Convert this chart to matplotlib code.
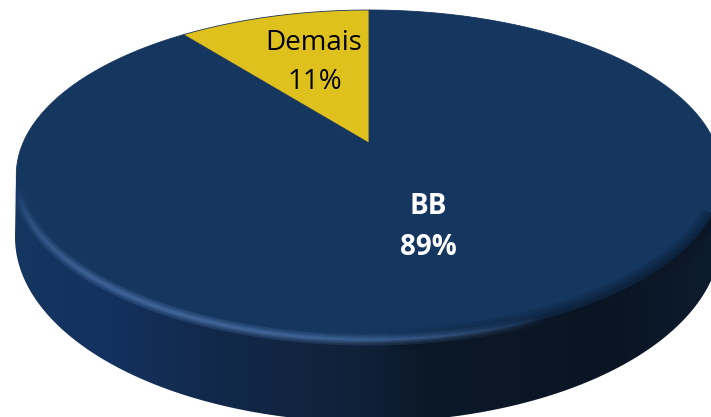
import matplotlib
matplotlib.use("Agg")
import matplotlib.pyplot as plt
import numpy as np
from matplotlib.collections import LineCollection
from matplotlib.colors import LinearSegmentedColormap
from matplotlib.patches import Polygon
from matplotlib.transforms import Affine2D

# values, the labels on the picture are rounded
categories = ["BB", "Demais"]
values = [89.4, 10.6]
percent_labels = ["89%", "11%"]
colors = ["#15365f", "#dfc11d"]

W, H = 711, 417
APEX_X, APEX_Y = 369, 143

# tilted disc, unit circle to pixels
def project(u, v):
    k = 0.194
    d = 1 + k * v
    return APEX_X + 346 * u / d, APEX_Y - 158.8 * v / d

fig = plt.figure(figsize=(W / 100, H / 100), dpi=100)
ax = fig.add_axes([0, 0, 1, 1])

# side wall of the pie
t = np.linspace(np.pi, 2 * np.pi, 300)
wall_x = 368 + 353 * np.cos(t)
wall_y = 237 - 185 * np.sin(t)
wall_pts = np.column_stack([np.r_[wall_x, 721, 16], np.r_[wall_y, 175, 175]])
wall = Polygon(wall_pts, closed=True, facecolor="none", edgecolor="none", zorder=1)
ax.add_patch(wall)
wall_cmap = LinearSegmentedColormap.from_list("wall", [
    (0.0, "#15365f"), (0.12, "#133260"), (0.28, "#12294b"), (0.48, "#10213a"),
    (0.58, "#0c1929"), (0.85, "#0a1523"), (1.0, "#0d1c30")])
grad = ax.imshow(np.linspace(0, 1, 256).reshape(1, -1), cmap=wall_cmap, aspect="auto",
                 extent=[15, 721, H + 10, 170], zorder=1)
grad.set_clip_path(wall)

# top face, the wedges come from pie() and get tilted afterwards
wedges, _ = ax.pie(values, colors=colors, startangle=90, counterclock=False)
for i, wedge in enumerate(wedges):
    big = wedge.get_path().transformed(Affine2D().scale(2000))
    poly = big.to_polygons(closed_only=False)[0] / 2000
    px, py = project(poly[:, 0], poly[:, 1])
    wedge.remove()
    ax.add_patch(Polygon(np.column_stack([px, py]), closed=True, facecolor=colors[i],
                         edgecolor="#1f3554" if i == 1 else colors[i],
                         linewidth=0.6, zorder=2 + i))

# soft rim along the front edge
def rim_lines(start, stop, color, peak, widths):
    a = np.radians(np.linspace(start, stop, 200))
    x, y = project(np.cos(a), np.sin(a))
    pts = np.column_stack([x, y]).reshape(-1, 1, 2)
    segs = np.concatenate([pts[:-1], pts[1:]], axis=1)
    fade = np.sin(np.linspace(0, np.pi, len(segs))) ** 0.7
    rgba = np.tile(matplotlib.colors.to_rgba(color), (len(segs), 1))
    for w in widths:
        rgba = rgba.copy()
        rgba[:, 3] = peak * fade
        ax.add_collection(LineCollection(segs, colors=rgba, linewidths=w, zorder=4,
                                         capstyle="butt"))

rim_lines(272, 345, "#0b1726", 0.2, [16, 11, 7, 4])
rim_lines(195, 295, "#5279b0", 0.27, [8, 5, 3, 1.5])

# labels
ax.text(314, 43, categories[1], ha="center", va="center", fontsize=20,
        family="Open Sans", color="black", zorder=6)
ax.text(315, 82, percent_labels[1], ha="center", va="center", fontsize=20,
        family="Open Sans", color="black", zorder=6)
ax.text(428, 206, categories[0], ha="center", va="center", fontsize=20,
        family="Open Sans", fontweight="bold", color="white", zorder=6)
ax.text(428, 247, percent_labels[0], ha="center", va="center", fontsize=20,
        family="Open Sans", fontweight="bold", color="white", zorder=6)

ax.set_aspect("auto")
ax.set_xlim(0, W)
ax.set_ylim(H, 0)
ax.axis("off")

fig.savefig("out.png", dpi=100, facecolor="white")
